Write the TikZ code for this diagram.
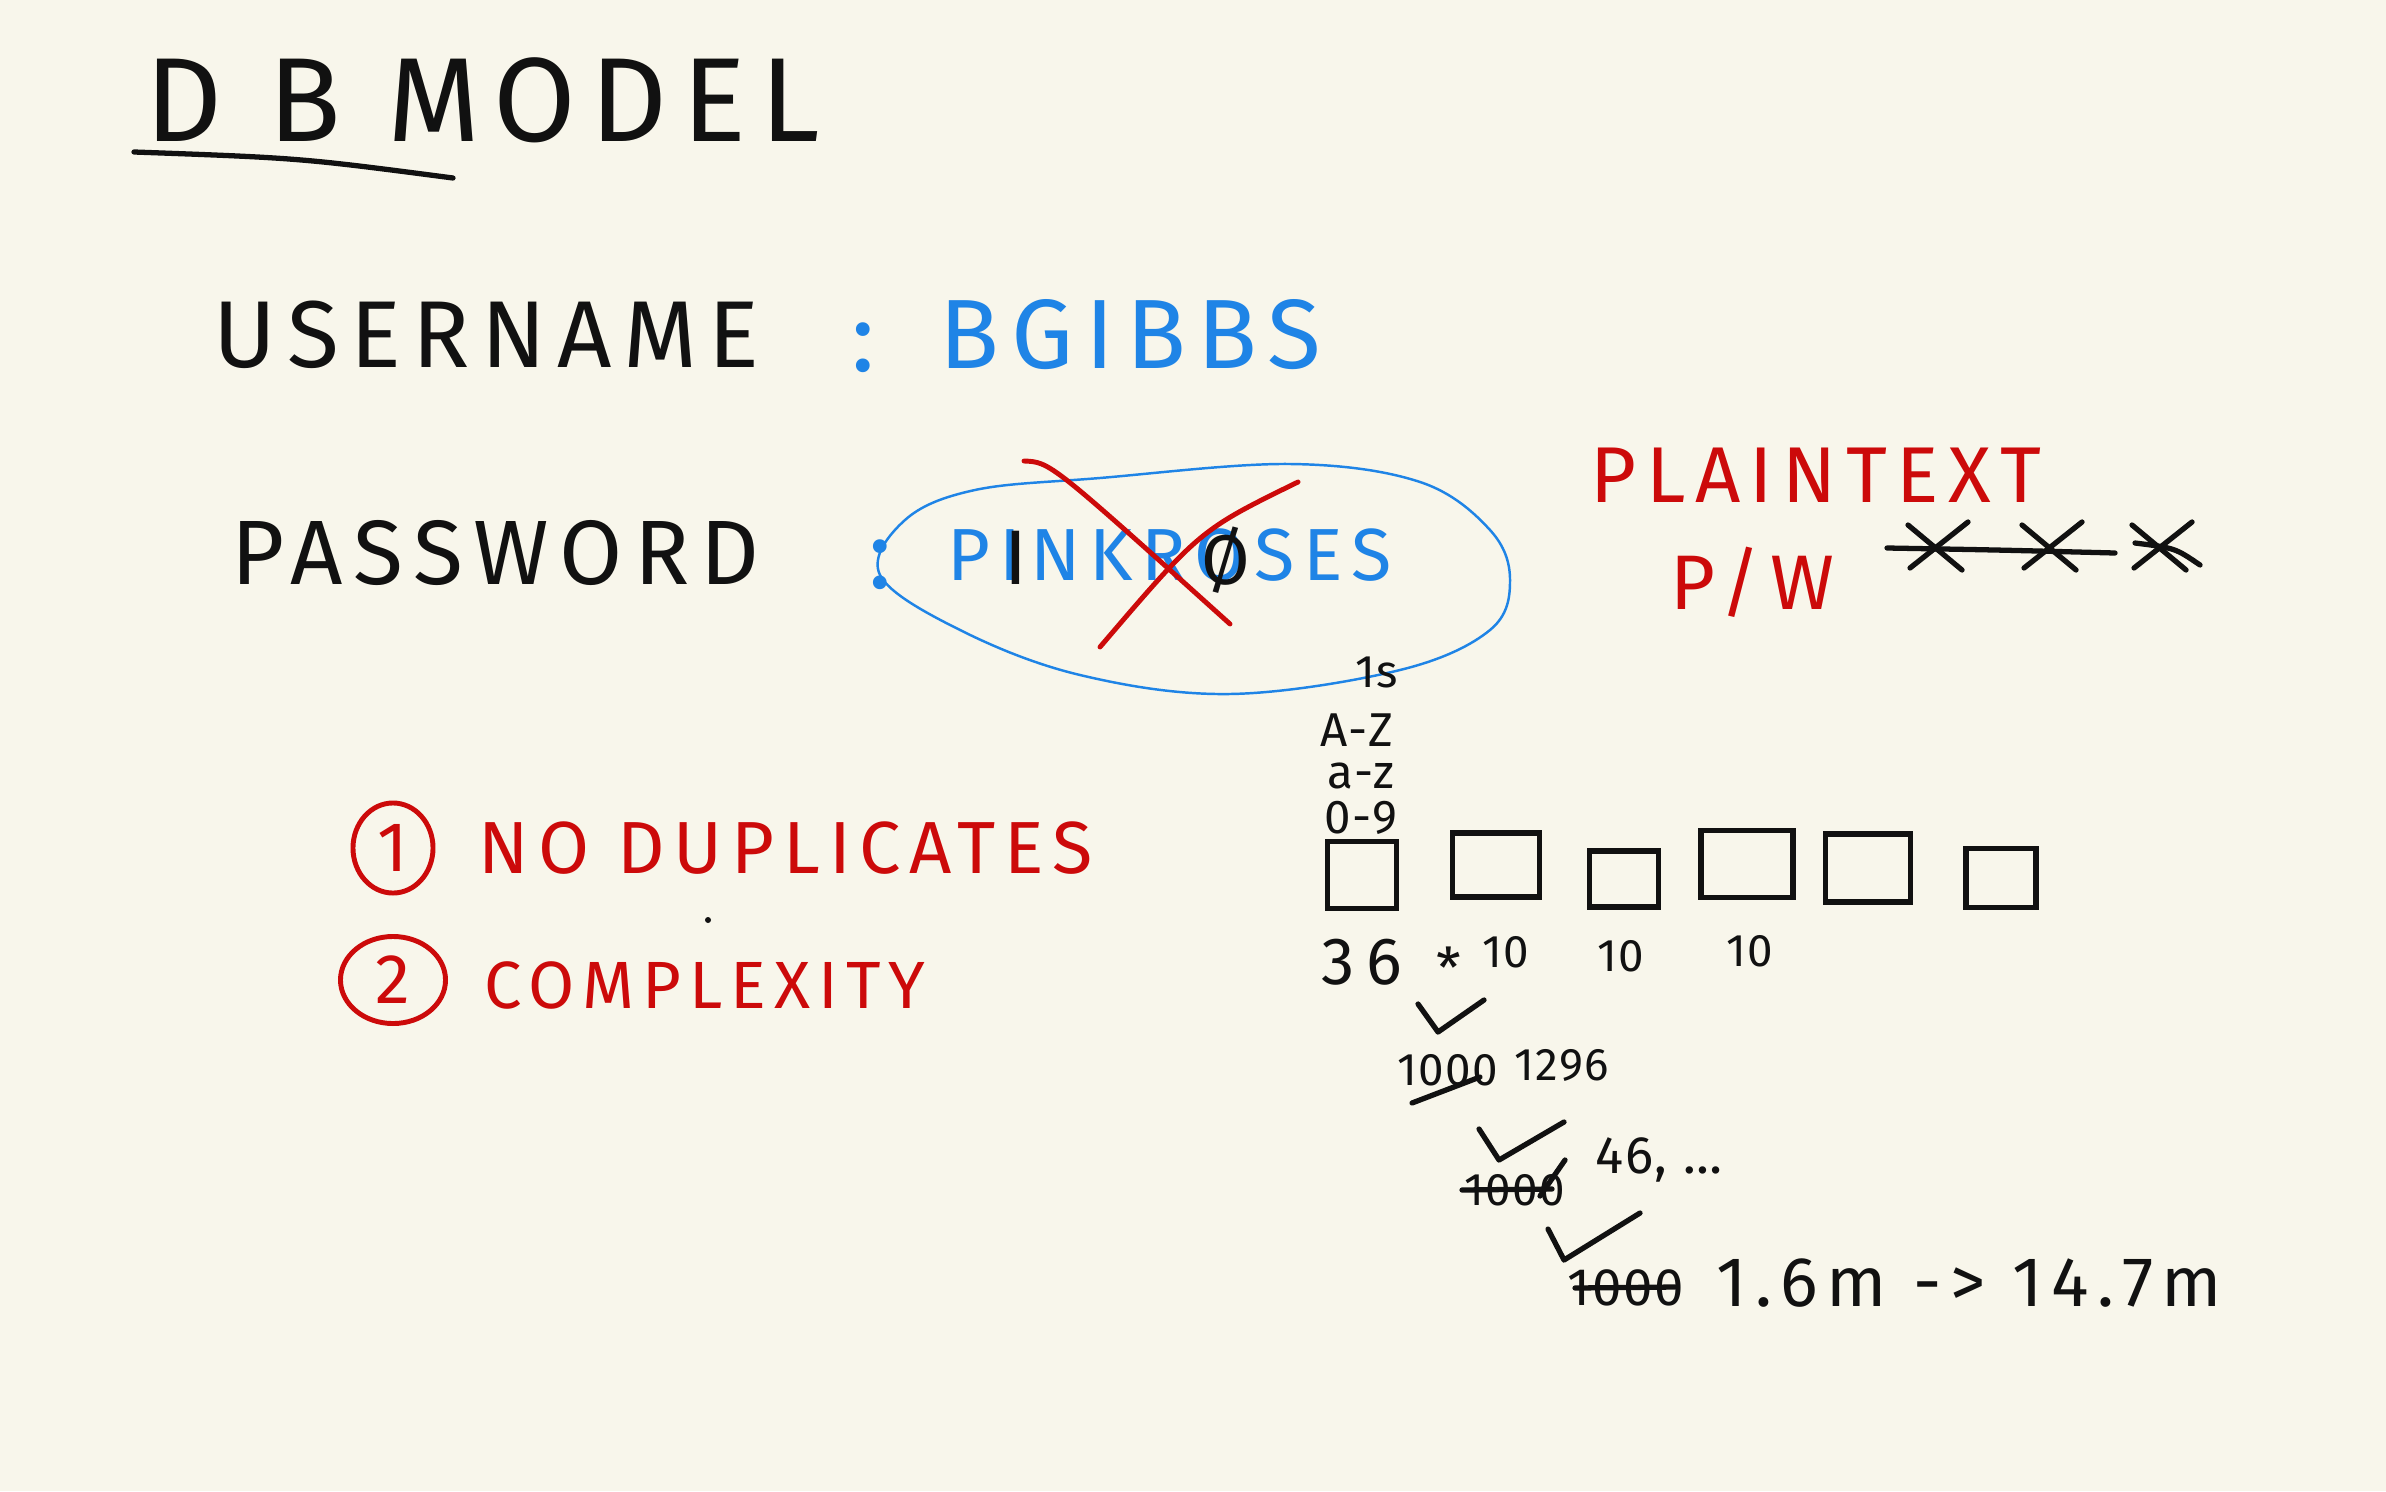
\documentclass[tikz,border=0pt]{standalone}
\usepackage{fontspec}
\setmainfont{Fira Sans}
\newfontfamily\hand{Fira Sans}[LetterSpace=12]
\newfontfamily\handn{Fira Sans}[LetterSpace=3]
\usetikzlibrary{positioning,shapes.geometric}
\definecolor{paper}{HTML}{F8F6EB}
\definecolor{ink}{HTML}{111111}
\definecolor{blueink}{HTML}{1F84E6}
\definecolor{redink}{HTML}{CC0A0A}

\begin{document}
\begin{tikzpicture}[
  x=0.01cm, y=-0.01cm,
  txt/.style={font=\hand\fontsize{#1pt}{#1pt}\selectfont, inner sep=0pt},
  txt/.default=16,
  num/.style={font=\handn\fontsize{#1pt}{#1pt}\selectfont, inner sep=0pt, text=ink},
  num/.default=14,
  pen/.style={draw=ink, line width=1.5pt, line cap=round, line join=round},
  box/.style={draw=ink, line width=1.6pt, inner sep=0pt},
  ring/.style={draw=redink, line width=1.4pt, ellipse, inner sep=0pt, text=redink},
]
\fill[paper] (0,0) rectangle (2386,1491);
\useasboundingbox (0,0) rectangle (2386,1491);

% Title
\node[txt=34, text=ink] (title) at (483,100) {D B MODEL};
\draw[pen] (134,152) .. controls (300,158) .. (453,178);

% Username / password
\node[txt=27, text=ink, anchor=west] (user) at (213,335) {USERNAME};
\node[txt=28, text=blueink] (ucol) at (863,348) {:};
\node[txt=28, text=blueink, anchor=west] (userval) at (939,335) {BGIBBS};

\node[txt=26, text=ink, anchor=west] (pass) at (231,553) {PASSWORD};
\node[txt=28, text=blueink] (pcol) at (880,565) {:};
\node[txt=21, text=blueink, anchor=west] (passval) at (947,555) {PINKROSES};
\node[txt=22, text=ink] (fixi) at (1016,558) {I};
\node[txt=20, text=ink] (fixo) at (1226,560) {Ø};
\draw[draw=blueink, line width=0.7pt] plot[smooth cycle, tension=0.6] coordinates {
  (880,575) (905,520) (975,490) (1100,478) (1290,464) (1420,482) (1490,530)
  (1510,580) (1490,630) (1400,670) (1230,694) (1080,675) (960,630)};
\draw[draw=redink, line width=1.4pt, line cap=round] (1024,461) .. controls (1050,462) .. (1230,624);
\draw[draw=redink, line width=1.4pt, line cap=round] (1298,482) .. controls (1200,530) .. (1100,647);

% Plaintext
\node[txt=22.5, text=redink, anchor=west] (plain) at (1590,475) {PLAINTEXT};
\node[txt=22, text=redink] (pw) at (1752,582) {P/W};
\foreach \x in {1940,2054,2164} {
  \draw[pen] (\x-32,525) -- (\x+22,570);
  \draw[pen] (\x+28,522) -- (\x-30,568);
}
\draw[pen] (1887,548) .. controls (2000,550) .. (2115,553);
\draw[pen] (2135,543) .. controls (2175,548) .. (2200,565);

% Rules
\node[ring, txt=20, minimum width=8mm, minimum height=9mm] (n1) at (393,848) {1};
\node[txt=21, text=redink, anchor=west] (dup) at (478,848) {NO DUPLICATES};
\node[ring, txt=20, minimum width=10.5mm, minimum height=8.7mm] (n2) at (393,980) {2};
\node[txt=19, text=redink, anchor=west] (cplx) at (484,985) {COMPLEXITY};
\fill[ink] (708,920) circle (3);

% Character sets
\node[num=13] (ones) at (1377,672) {1s};
\node[num=13.5, anchor=west] (upper) at (1320,730) {A-Z};
\node[num=13.5, anchor=west] (lower) at (1327,776) {a-z};
\node[num=13.5, anchor=west] (digit) at (1324,818) {0-9};

% Slots
\foreach \i/\x/\y/\w/\h in {1/1362/875/6.9/6.7, 2/1496/865/8.7/6.4, 3/1624/879/6.9/5.6,
                            4/1747/864/9.2/6.7, 5/1868/868/8.5/6.8, 6/2001/878/7.0/5.9} {
  \node[box, minimum width=\w mm, minimum height=\h mm] (b\i) at (\x,\y) {};
}
\node[num=19, anchor=west] (n36) at (1321,962) {3\,6};
\node[num=16] (star) at (1449,968) {*};
\node[num=13] (e1) at (1506,952) {10};
\node[num=13] (e2) at (1621,956) {10};
\node[num=13] (e3) at (1750,951) {10};

% Steps
\draw[pen] (1418,1004) -- (1438,1032) -- (1484,1000);
\node[num=13, anchor=west] (k1) at (1397,1070) {1000};
\draw[pen] (1412,1103) -- (1480,1077);
\node[num=13, anchor=west] (r1) at (1514,1065) {1296};

\draw[pen] (1479,1129) -- (1499,1160) -- (1564,1122);
\node[num=13, anchor=west] (k2) at (1464,1190) {1000};
\draw[pen] (1462,1190) -- (1552,1189);
\draw[pen] (1540,1196) -- (1565,1160);
\node[num=15, anchor=west] (r2) at (1595,1160) {46, \dots};

\draw[pen] (1548,1229) -- (1564,1260) -- (1640,1213);
\node[num=15, anchor=west] (k3) at (1567,1288) {1000};
\draw[pen] (1575,1288) -- (1675,1287);
\node[txt=20, text=ink, anchor=west] (r3) at (1716,1283) {1.6m -{}> 14.7m};
\end{tikzpicture}
\end{document}
